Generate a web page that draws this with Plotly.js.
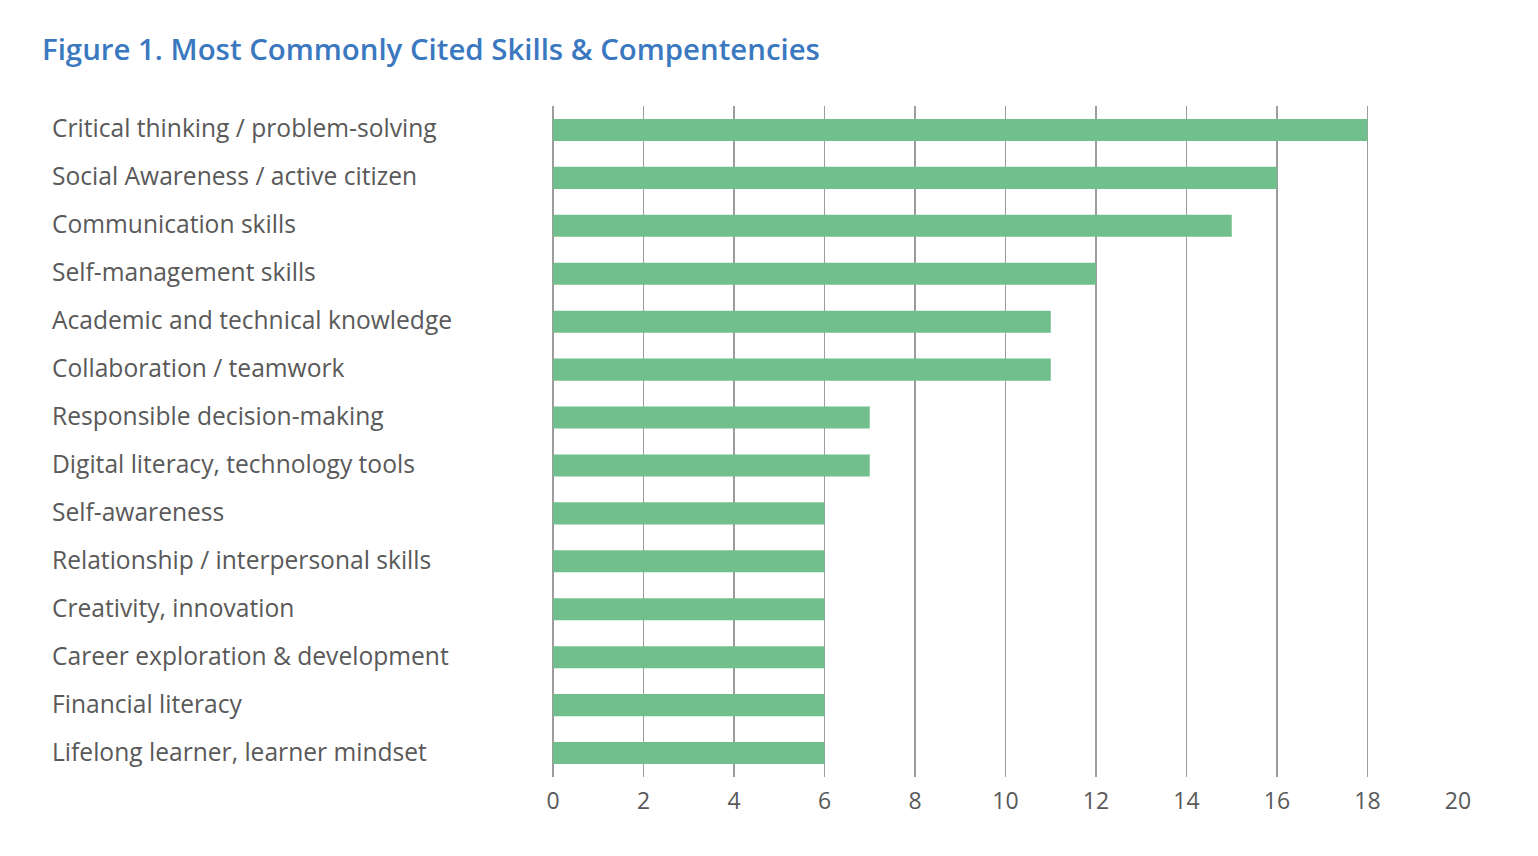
<!DOCTYPE html>
<html>
<head>
<meta charset="utf-8">
<script src="https://cdn.plot.ly/plotly-3.0.1.min.js"></script>
<style>html,body{margin:0;padding:0;background:#fff;}#chart{width:1538px;height:856px;}</style>
</head>
<body>
<div id="chart"></div>
<script>
const categories = [
  "Critical thinking / problem-solving",
  "Social Awareness / active citizen",
  "Communication skills",
  "Self-management skills",
  "Academic and technical knowledge",
  "Collaboration / teamwork",
  "Responsible decision-making",
  "Digital literacy, technology tools",
  "Self-awareness",
  "Relationship / interpersonal skills",
  "Creativity, innovation",
  "Career exploration & development",
  "Financial literacy",
  "Lifelong learner, learner mindset"
];
const counts = [18, 16, 15, 12, 11, 11, 7, 7, 6, 6, 6, 6, 6, 6];
const tickValues = [0, 2, 4, 6, 8, 10, 12, 14, 16, 18, 20];

const trace = {
  type: 'bar',
  orientation: 'h',
  x: counts,
  y: categories,
  marker: {color: '#70bf8c'},
  width: 0.46,
  hoverinfo: 'x+y'
};

const annotations = categories.map(c => ({
  xref: 'paper', yref: 'y', x: -0.5555, y: c,
  xanchor: 'left', yanchor: 'middle', yshift: 2,
  text: c, showarrow: false,
  font: {family: 'Open Sans', size: 24.6, color: '#595959'}
}));

const layout = {
  width: 1538, height: 856,
  margin: {l: 553, r: 80, t: 106, b: 79},
  paper_bgcolor: '#fff', plot_bgcolor: '#fff',
  title: {
    text: 'Figure 1. Most Commonly Cited Skills & Compentencies',
    font: {family: 'Open Sans', size: 29.4, color: '#3a78c0', weight: 600},
    x: 42/1538, xanchor: 'left', xref: 'container',
    y: 1 - 50/856, yanchor: 'middle', yref: 'container'
  },
  xaxis: {
    range: [0, 20],
    tickvals: tickValues,
    ticktext: tickValues.map(String),
    showgrid: true, gridcolor: '#9c9c9c', gridwidth: 1.5,
    zeroline: true, zerolinecolor: '#9c9c9c', zerolinewidth: 1.5,
    showline: false, ticks: '',
    ticklabelstandoff: 8,
    tickfont: {family: 'Open Sans', size: 23, color: '#595959'},
    fixedrange: true
  },
  yaxis: {
    autorange: 'reversed',
    showticklabels: false, showgrid: false, zeroline: false,
    ticks: '', fixedrange: true
  },
  annotations: annotations,
  showlegend: false,
  bargap: 0.54
};

Plotly.newPlot('chart', [trace], layout, {displayModeBar: false, staticPlot: true});
</script>
</body>
</html>
